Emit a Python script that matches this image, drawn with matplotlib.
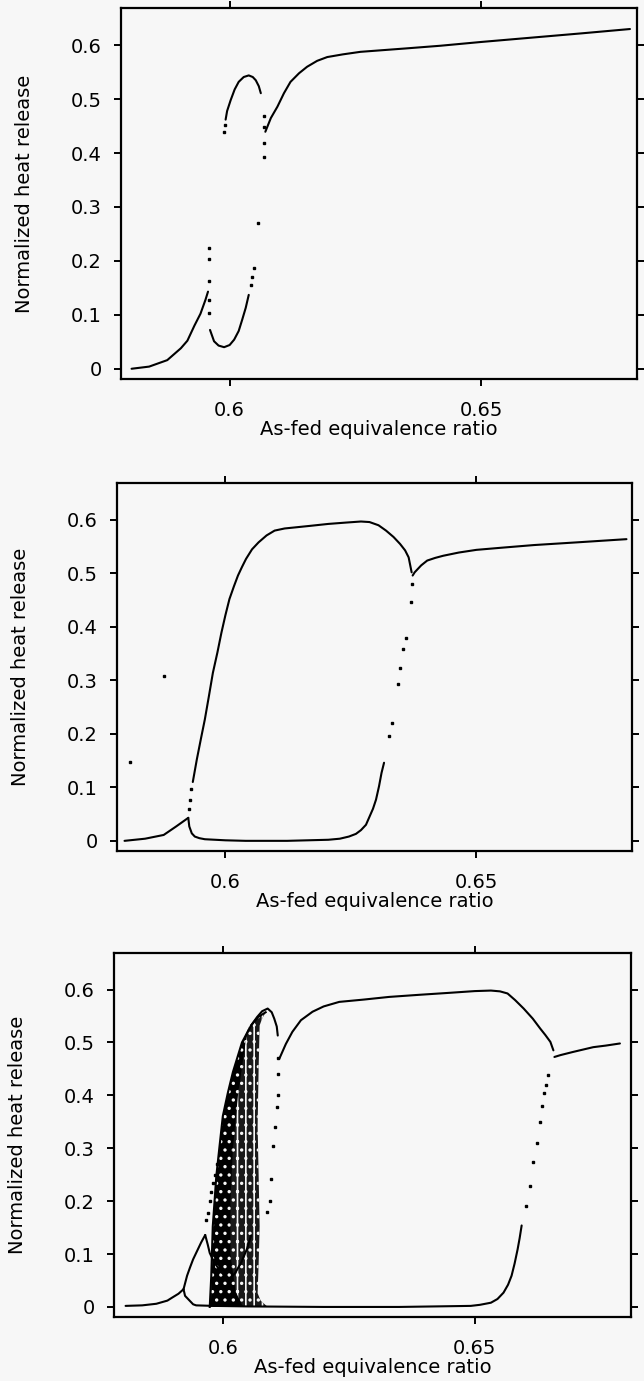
import numpy as np
import matplotlib.pyplot as plt

# --- panel 1 ---
p1_low_x = [0.5805, 0.584, 0.5876, 0.5903, 0.5916, 0.593, 0.5942, 0.5952, 0.5957]
p1_low_y = [0.0, 0.004, 0.016, 0.038, 0.052, 0.080, 0.102, 0.128, 0.143]
p1_drop_x = [0.5959, 0.5959, 0.5959, 0.5959, 0.5959]
p1_drop_y = [0.2235, 0.203, 0.162, 0.128, 0.103]
p1_u_x = [0.5961, 0.5969, 0.5978, 0.5989, 0.6000, 0.6009, 0.6018, 0.6025, 0.6032, 0.6038]
p1_u_y = [0.072, 0.051, 0.043, 0.040, 0.044, 0.054, 0.070, 0.091, 0.113, 0.137]
p1_u_dots_x = [0.6042, 0.6045, 0.6048, 0.6057]
p1_u_dots_y = [0.155, 0.171, 0.186, 0.270]
p1_arch_x = [0.5992, 0.5995, 0.6002, 0.6010, 0.6018, 0.6028, 0.6038, 0.6046, 0.6052, 0.6058, 0.6062]
p1_arch_y = [0.462, 0.478, 0.498, 0.518, 0.532, 0.541, 0.544, 0.541, 0.535, 0.524, 0.511]
p1_arch_dots_x = [0.5988, 0.5990]
p1_arch_dots_y = [0.4395, 0.452]
p1_jump_x = [0.6068, 0.6068, 0.6068, 0.6068]
p1_jump_y = [0.4685, 0.4487, 0.418, 0.393]
p1_top_x = [0.6071, 0.6082, 0.6095, 0.6108, 0.6121, 0.6138, 0.6154, 0.6174, 0.6194,
            0.6225, 0.6260, 0.635, 0.6419, 0.650, 0.660, 0.670, 0.6796]
p1_top_y = [0.4395, 0.465, 0.486, 0.511, 0.532, 0.548, 0.560, 0.571, 0.578,
            0.583, 0.5877, 0.594, 0.599, 0.606, 0.614, 0.622, 0.630]

# --- panel 2 ---
p2_left_x = [0.5799, 0.584, 0.5877, 0.5902, 0.5926]
p2_left_y = [0.0, 0.004, 0.011, 0.027, 0.043]
p2_stray_x = [0.581, 0.5877]
p2_stray_y = [0.147, 0.308]
p2_rise_dots_x = [0.5927, 0.5929, 0.5931]
p2_rise_dots_y = [0.060, 0.077, 0.096]
p2_rise_x = [0.5935, 0.5943, 0.5951, 0.5959, 0.5967, 0.5975, 0.5984, 0.5992, 0.6000,
             0.6008, 0.6017, 0.6025, 0.6033, 0.6041, 0.6053, 0.6066, 0.6082, 0.6098,
             0.6118, 0.6139, 0.617, 0.6205, 0.624, 0.627, 0.6287, 0.6305, 0.6320,
             0.6335, 0.6348, 0.6358, 0.6365, 0.6371]
p2_rise_y = [0.110, 0.152, 0.190, 0.227, 0.270, 0.314, 0.352, 0.389, 0.422,
             0.452, 0.476, 0.496, 0.512, 0.527, 0.545, 0.558, 0.571, 0.580,
             0.584, 0.586, 0.589, 0.5925, 0.595, 0.597, 0.596, 0.590, 0.580,
             0.568, 0.555, 0.543, 0.530, 0.502]
p2_right_x = [0.6373, 0.6377, 0.639, 0.6402, 0.6418, 0.6434, 0.6465, 0.65, 0.655,
              0.6615, 0.670, 0.6799]
p2_right_y = [0.496, 0.502, 0.515, 0.524, 0.529, 0.533, 0.539, 0.544, 0.548,
              0.553, 0.558, 0.564]
p2_bottom_x = [0.5926, 0.5928, 0.5933, 0.5939, 0.5948, 0.5959, 0.600, 0.604, 0.6123,
               0.6205, 0.6228, 0.6246, 0.626, 0.627, 0.628, 0.6287, 0.6294, 0.630,
               0.6306, 0.6311, 0.6316]
p2_bottom_y = [0.043, 0.027, 0.014, 0.008, 0.005, 0.003, 0.001, 0.0, 0.0,
               0.002, 0.004, 0.008, 0.013, 0.020, 0.030, 0.045, 0.060, 0.077,
               0.102, 0.127, 0.146]
p2_jump_x = [0.6326, 0.6332, 0.6343, 0.6348, 0.6354, 0.6359, 0.6369, 0.6371]
p2_jump_y = [0.196, 0.220, 0.2925, 0.324, 0.358, 0.380, 0.446, 0.480]

# --- panel 3 ---
p3_left_x = [0.5807, 0.584, 0.5868, 0.589, 0.5900, 0.5912, 0.5922]
p3_left_y = [0.002, 0.003, 0.006, 0.012, 0.018, 0.025, 0.0335]
p3_up_x = [0.5922, 0.5929, 0.5935, 0.5941, 0.5949, 0.5957, 0.5965]
p3_up_y = [0.0335, 0.059, 0.075, 0.090, 0.106, 0.122, 0.136]
p3_up_dots_x = [0.5967, 0.5970, 0.5974, 0.5977, 0.5980, 0.5984, 0.5988]
p3_up_dots_y = [0.165, 0.178, 0.200, 0.217, 0.235, 0.250, 0.270]
p3_fork_x = [0.5965, 0.5970, 0.5974, 0.5980, 0.5987, 0.5993, 0.6003, 0.6013,
             0.6025, 0.6037, 0.6048, 0.6056]
p3_fork_y = [0.136, 0.118, 0.102, 0.090, 0.079, 0.070, 0.060, 0.051,
             0.065, 0.085, 0.110, 0.135]
p3_bottom_x = [0.5922, 0.5925, 0.5934, 0.5941, 0.5947, 0.5981, 0.605, 0.620, 0.635,
               0.6492, 0.651, 0.6532, 0.6545, 0.6557, 0.6566, 0.6573, 0.6579, 0.6585,
               0.6589, 0.6593]
p3_bottom_y = [0.0335, 0.021, 0.012, 0.005, 0.003, 0.002, 0.001, 0.0, 0.0,
               0.002, 0.004, 0.008, 0.015, 0.027, 0.042, 0.059, 0.082, 0.109,
               0.130, 0.154]
p3_jump_x = [0.6601, 0.6609, 0.6615, 0.6623, 0.6630, 0.6634, 0.6638, 0.6642, 0.6646]
p3_jump_y = [0.190, 0.229, 0.2735, 0.310, 0.349, 0.380, 0.405, 0.420, 0.438]
p3_plateau_x = [0.6112, 0.6125, 0.6138, 0.6155, 0.6178, 0.620, 0.6231, 0.628, 0.633,
                0.639, 0.6451, 0.650, 0.6532, 0.655, 0.6565, 0.658, 0.6597, 0.6615,
                0.663, 0.664, 0.665, 0.6656]
p3_plateau_y = [0.469, 0.497, 0.520, 0.542, 0.558, 0.568, 0.5766, 0.581, 0.586,
                0.590, 0.5938, 0.597, 0.598, 0.5965, 0.5925, 0.580, 0.564, 0.545,
                0.526, 0.514, 0.501, 0.485]
p3_right_x = [0.6658, 0.667, 0.6695, 0.6735, 0.676, 0.6788]
p3_right_y = [0.4725, 0.476, 0.482, 0.491, 0.494, 0.498]
p3_hump_x = [0.6056, 0.6068, 0.6078, 0.6089, 0.6097, 0.6102, 0.6107, 0.6109]
p3_hump_y = [0.532, 0.548, 0.559, 0.564, 0.557, 0.545, 0.530, 0.513]
p3_hump_dots_x = [0.6110, 0.6110, 0.6109, 0.6108, 0.6104, 0.6099, 0.6096, 0.6093, 0.6087]
p3_hump_dots_y = [0.470, 0.440, 0.400, 0.378, 0.340, 0.304, 0.241, 0.200, 0.180]
# chaotic band: outline (left edge going up, right edge coming down)
p3_band_x = [0.5974, 0.5977, 0.5980, 0.5987, 0.5993, 0.6000, 0.6010, 0.6020, 0.6038,
             0.6056, 0.6070, 0.6085, 0.6078, 0.6073, 0.6071, 0.6069, 0.6071, 0.6073,
             0.6071, 0.6069, 0.6075, 0.6089]
p3_band_y = [0.0, 0.058, 0.152, 0.247, 0.300, 0.361, 0.405, 0.444, 0.500,
             0.532, 0.548, 0.557, 0.545, 0.532, 0.450, 0.342, 0.250, 0.152,
             0.080, 0.026, 0.012, 0.0]
# densest part of the band
p3_core_x = [0.5976, 0.5978, 0.5981, 0.5987, 0.5993, 0.6000, 0.6010, 0.6020, 0.6038,
             0.6052, 0.6045, 0.6030, 0.6020, 0.6015, 0.6015, 0.6025, 0.6040]
p3_core_y = [0.0, 0.058, 0.152, 0.247, 0.300, 0.361, 0.405, 0.444, 0.500,
             0.530, 0.500, 0.400, 0.300, 0.200, 0.100, 0.030, 0.0]

yticks = [0, 0.1, 0.2, 0.3, 0.4, 0.5, 0.6]
ytick_labels = ['0', '0.1', '0.2', '0.3', '0.4', '0.5', '0.6']
xticks = [0.6, 0.65]
xtick_labels = ['0.6', '0.65']

bg = '#f7f7f7'
plt.rcParams['font.family'] = ['DejaVu Sans']

fig = plt.figure(figsize=(6.44, 13.81), dpi=100, facecolor=bg)
W, H = 644.0, 1381.0
boxes = [(121, 8, 637, 379), (117, 483, 632, 851), (114, 953, 631, 1317)]
axs = []
for (l, t, r, b) in boxes:
    ax = fig.add_axes([l / W, 1 - b / H, (r - l) / W, (b - t) / H], facecolor=bg)
    axs.append(ax)


def line(ax, x, y):
    ax.plot(x, y, color='black', lw=1.5, solid_capstyle='round')


def dots(ax, x, y):
    ax.plot(x, y, ls='none', marker='s', ms=1.8, color='black')


ax = axs[0]
line(ax, p1_low_x, p1_low_y)
dots(ax, p1_drop_x, p1_drop_y)
line(ax, p1_u_x, p1_u_y)
dots(ax, p1_u_dots_x, p1_u_dots_y)
line(ax, p1_arch_x, p1_arch_y)
dots(ax, p1_arch_dots_x, p1_arch_dots_y)
dots(ax, p1_jump_x, p1_jump_y)
line(ax, p1_top_x, p1_top_y)

ax = axs[1]
line(ax, p2_left_x, p2_left_y)
dots(ax, p2_stray_x, p2_stray_y)
dots(ax, p2_rise_dots_x, p2_rise_dots_y)
line(ax, p2_rise_x, p2_rise_y)
line(ax, p2_right_x, p2_right_y)
line(ax, p2_bottom_x, p2_bottom_y)
dots(ax, p2_jump_x, p2_jump_y)

ax = axs[2]
plt.rcParams['hatch.linewidth'] = 1.2
ax.fill(p3_band_x, p3_band_y, facecolor='#1a1a1a', edgecolor=bg, hatch='||..', lw=0)
ax.fill(p3_core_x, p3_core_y, facecolor='black', edgecolor=bg, hatch='..', lw=0)
n_left = 12
ax.plot(p3_band_x[:n_left], p3_band_y[:n_left], color='black', lw=1.5)
line(ax, p3_left_x, p3_left_y)
line(ax, p3_up_x, p3_up_y)
dots(ax, p3_up_dots_x, p3_up_dots_y)
line(ax, p3_fork_x, p3_fork_y)
line(ax, p3_bottom_x, p3_bottom_y)
dots(ax, p3_jump_x, p3_jump_y)
line(ax, p3_plateau_x, p3_plateau_y)
line(ax, p3_right_x, p3_right_y)
line(ax, p3_hump_x, p3_hump_y)
dots(ax, p3_hump_dots_x, p3_hump_dots_y)

for ax in axs:
    ax.set_xlim(0.5784, 0.681)
    ax.set_ylim(-0.019, 0.669)
    ax.set_xticks(xticks)
    ax.set_xticklabels(xtick_labels)
    ax.set_yticks(yticks)
    ax.set_yticklabels(ytick_labels)
    for s in ax.spines.values():
        s.set_linewidth(1.6)
    ax.tick_params(axis='both', direction='out', length=5, width=1.4,
                   top=True, right=True, labelsize=14)
    ax.tick_params(axis='x', pad=11)
    ax.tick_params(axis='y', pad=9)
    ax.set_xlabel('As-fed equivalence ratio', fontsize=14, labelpad=0)
    ax.set_ylabel('Normalized heat release', fontsize=14)
    ax.yaxis.set_label_coords(-0.168, 0.5)

plt.savefig('out.png', dpi=100, facecolor=bg)
